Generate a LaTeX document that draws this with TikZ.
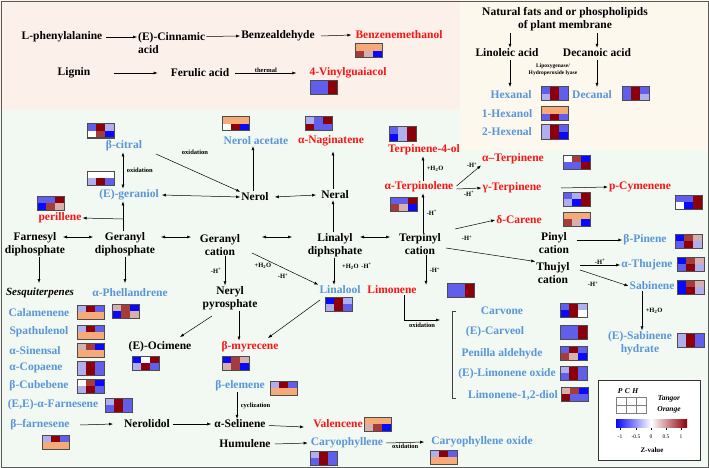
\documentclass[tikz,border=0pt]{standalone}
\usepackage{fontspec}
\setmainfont{Liberation Serif}
\usetikzlibrary{arrows.meta}
\definecolor{B}{RGB}{10,10,250}
\definecolor{M}{RGB}{95,95,235}
\definecolor{L}{RGB}{175,175,240}
\definecolor{W}{RGB}{255,255,255}
\definecolor{P}{RGB}{215,175,175}
\definecolor{S}{RGB}{165,60,60}
\definecolor{R}{RGB}{140,0,10}
\definecolor{O}{RGB}{245,170,120}
\definecolor{tblue}{RGB}{90,150,215}
\definecolor{tred}{RGB}{250,20,20}
\definecolor{bgpink}{RGB}{252,240,234}
\definecolor{bgbeige}{RGB}{253,248,238}
\definecolor{bggreen}{RGB}{242,248,242}
\newcommand{\hm}[8]{\begin{scope}[shift={(#1,#2)}]
\fill[#3] (0,0) rectangle (9,7);\fill[#4] (9,0) rectangle (18,7);\fill[#5] (18,0) rectangle (27,7);
\fill[#6] (0,7) rectangle (9,14);\fill[#7] (9,7) rectangle (18,14);\fill[#8] (18,7) rectangle (27,14);
\draw[gray!60!black,line width=1pt] (0,0) rectangle (27,14);\end{scope}}
\tikzset{
 t/.style={font=\bfseries\fontsize{11.5}{12.5}\selectfont,inner sep=1pt,align=center},
 tb/.style={t,text=tblue},
 tr/.style={t,text=tred},
 sm/.style={font=\bfseries\fontsize{6.5}{7}\selectfont,inner sep=0.5pt,align=center},
 ar/.style={-{Latex[length=4pt,width=3pt]},line width=0.5pt},
 dar/.style={{Latex[length=4pt,width=3pt]}-{Latex[length=4pt,width=3pt]},line width=0.5pt},
}
\begin{document}
\begin{tikzpicture}[x=1pt,y=-1pt]
\useasboundingbox (0,0) rectangle (709,468);
\fill[bggreen] (0,0) rectangle (709,468);
\fill[bgpink] (0,0) rectangle (460,110);
\fill[bgbeige] (460,0) rectangle (709,150);
\draw[gray!70!black,line width=0.8pt] (1,1) rectangle (708,467);
% top-left
\node[t] (lphe) at (62,37) {L-phenylalanine};
\node[t,anchor=west,align=left] (cinn) at (137,43) {(E)-Cinnamic\\acid};
\node[t] (benz) at (278,36) {Benzealdehyde};
\node[tr] (bzm) at (399,35) {Benzenemethanol};
\hm{355}{44}{O}{O}{O}{S}{P}{B}
\node[t] (lig) at (74,73) {Lignin};
\node[t] (fer) at (200,73) {Ferulic acid};
\node[tr] (vin) at (348,73) {4-Vinylguaiacol};
\hm{310}{81}{M}{M}{R}{M}{M}{R}
\draw[ar] (lphe.east) ++(3,0) -- ([yshift=6pt]cinn.west);
\draw[ar] ([xshift=-14pt,yshift=6.5pt]cinn.east) ++(14,0) -- (benz.west);
\draw[ar] (benz.east) ++(5,0) -- ([xshift=-3pt]bzm.west);
\draw[ar] (lig.east) ++(22,0) -- ([xshift=-12pt]fer.west);
\draw[ar] (fer.east) ++(5,0) -- node[sm,above]{thermal} ([xshift=-12pt]vin.west);
% top-right
\node[t] (nat) at (565,19) {Natural fats and or phospholipids\\of plant membrane};
\node[t] (lino) at (507,53) {Linoleic acid};
\node[t] (deca) at (597,53) {Decanoic acid};
\draw[ar] (510,33) -- (lino.north -| 510,0);
\draw[ar] (597,33) -- (deca.north);
\node[sm,font=\bfseries\fontsize{5.5}{7}\selectfont] (lipo) at (553,70) {Lipoxygenase/\\Hydroperoxide lyase};
\node[tb] (hexa) at (511,95) {Hexanal};
\node[tb] (decal) at (592,95) {Decanal};
\draw[ar] (510,60) -- (510,87);
\draw[ar] (597,60) -- (597,87);
\hm{541}{87}{M}{R}{M}{L}{R}{M}
\hm{622}{87}{M}{R}{M}{M}{R}{L}
\node[tb] (hexol) at (507,114) {1-Hexanol};
\hm{541}{107}{O}{O}{O}{M}{R}{M}
\node[tb] (hexe) at (507,132) {2-Hexenal};
\hm{541}{125}{L}{R}{M}{L}{R}{B}
% geraniol area
\node[tb] (cit) at (124,146) {β-citral};
\hm{87}{124}{M}{R}{L}{W}{S}{B}
\node[tb] (nac) at (256,141) {Nerol acetate};
\hm{222}{117}{O}{O}{O}{W}{R}{B}
\node[tr] (nag) at (331,141) {α-Naginatene};
\hm{305}{117}{L}{M}{R}{R}{M}{M}
\node[tb] (ger) at (129,195) {(E)-geraniol};
\hm{87}{171}{W}{W}{W}{L}{R}{M}
\node[t] (nerol) at (255,197) {Nerol};
\node[t] (neral) at (335,195) {Neral};
\draw[ar] (156,154) -- (nerol.north west);
\node[sm] at (195,152) {oxidation};
\draw[ar] (nerol.north) ++(-2,-1) -- (nac.south -| 253,0);
\draw[ar] (neral.north) ++(-2,-1) -- ([yshift=-4pt]nag.south -| 333,0);
\draw[dar] (cit.south -| 123,0) -- node[sm,right=3pt]{oxidation} (ger.north -| 123,0);
\draw[dar] (ger.east) ++(2,0) -- (nerol.west);
\draw[dar] (nerol.east) ++(5,0) -- ([xshift=-4pt]neral.west);
\node[tr] (per) at (60,218) {perillene};
\hm{37}{196}{M}{M}{R}{B}{S}{P}
\coordinate (pj) at (123,219);
\draw[ar] (pj) -- (per.east);
\node[t] (far) at (35,244) {Farnesyl\\diphosphate};
\node[t] (gdp) at (125,244) {Geranyl\\diphosphate};
\node[t] (gca) at (220,245) {Geranyl\\cation};
\node[t] (lin) at (335,245) {Linalyl\\diphsphate};
\draw[ar] (pj) -- (ger.south -| 123,0);
\draw (gdp.north -| 123,0) -- (pj);
\draw[dar] (63,237) -- (93,237);
\draw[dar] (161,237) -- (191,237);
\draw[dar] (262,237) -- (292,237);
\draw[ar] (lin.north -| 333,0) -- (neral.south -| 333,0);
\draw[ar] (far.south -| 39,0) -- (39,283);
\draw[ar] (gdp.south) -- (125,283);
\node[font=\bfseries\itshape\fontsize{11}{12}\selectfont,inner sep=1pt] (ses) at (40,293) {Sesquiterpenes};
\node[tb] (phe) at (130,293) {α-Phellandrene};
\hm{112}{304}{P}{S}{B}{B}{S}{P}
\node[t] (ner) at (230,298) {Neryl\\pyrosphate};
\draw[ar] (gca.south -| 225,0) -- node[sm,left=3pt]{-H\textsuperscript{+}} (ner.north -| 225,0);
\node[tb] (lool) at (340,290) {Linalool};
\hm{325}{297}{B}{R}{L}{L}{R}{M}
\draw[ar] (252,253) -- (lool.north west);
\node[sm] at (263,266) {+H\textsubscript{2}O};
\node[sm] at (283,276) {-H\textsuperscript{+}};
\draw[ar] (lin.south -| 334,0) -- (lool.north -| 334,0);
\node[sm] at (357,266) {+H\textsubscript{2}O\, -H\textsuperscript{+}};
\node[t] (oci) at (160,347) {(E)-Ocimene};
\hm{132}{356}{B}{W}{R}{L}{R}{M}
\node[tr] (myr) at (250,347) {β-myrecene};
\hm{222}{356}{B}{S}{P}{P}{S}{B}
\draw[ar] (212,316) -- (180,337);
\draw[ar] (ner.south -| 239,0) -- (myr.north -| 239,0);
\draw[ar] (320,300) -- (268,338);
\node[tb] (ele) at (240,386) {β-elemene};
\hm{270}{381}{L}{R}{M}{O}{O}{O}
% sesquiterpene list
\node[tb] (cal) at (39,313) {Calamenene}; \hm{77}{305}{L}{R}{M}{O}{O}{O}
\node[tb] (spa) at (39,332) {Spathulenol}; \hm{77}{325}{L}{R}{M}{O}{O}{O}
\node[tb] (sin) at (35,351) {α-Sinensal}; \hm{77}{343}{P}{S}{B}{O}{O}{O}
\node[tb] (cop) at (36,368) {α-Copaene}; \hm{77}{361}{L}{R}{M}{L}{R}{M}
\node[tb] (cub) at (39,386) {β-Cubebene}; \hm{77}{379}{W}{S}{B}{L}{R}{M}
\node[tb] (eef) at (53,405) {(E,E)-α-Farnesene}; \hm{105}{398}{L}{R}{M}{M}{R}{M}
\node[tb] (bfa) at (40,425) {β–farnesene}; \hm{42}{435}{L}{R}{M}{O}{O}{O}
\node[t] (nlol) at (147,424) {Nerolidol};
\node[t] (sel) at (240,424) {α-Selinene};
\node[tr] (val) at (338,424) {Valencene};
\hm{364}{417}{O}{O}{O}{P}{S}{B}
\node[t] (hum) at (245,444) {Humulene};
\node[tb] (car) at (347,443) {Caryophyllene};
\hm{310}{451}{L}{R}{M}{M}{R}{M}
\node[tb] (cox) at (482,442) {Caryophyllene oxide};
\hm{430}{450}{L}{R}{M}{O}{O}{O}
\draw[ar] (80,425) -- (nlol.west -| 113,0);
\draw[ar] (nlol.east) ++(2,0) -- ([xshift=-2pt]sel.west);
\draw[ar] (ele.south -| 237,0) -- node[sm,right=3pt]{cyclization} (sel.north -| 237,0);
\draw[ar] (sel.east) ++(2,1.5) -- (304,427);
\draw[ar] (hum.east) ++(3,0) -- ([xshift=-2pt]car.west);
\draw[ar] (car.east) ++(2,0) -- node[sm,below=1pt]{oxidation} ([xshift=-6pt]cox.west);
% terpinyl area
\node[tr] (tol) at (419,187) {α-Terpinolene};
\hm{390}{197}{M}{M}{R}{S}{P}{B}
\node[tr] (t4) at (424,150) {Terpinene-4-ol};
\hm{389}{127}{M}{L}{R}{B}{L}{R}
\draw[ar] (tol.north -| 423,0) -- node[sm,right=3pt]{+H\textsubscript{2}O} (t4.south -| 423,0);
\node[tr] (ater) at (513,159) {α–Terpinene};
\hm{563}{155}{W}{S}{B}{M}{M}{R}
\node[tr] (gter) at (512,188) {γ-Terpinene};
\hm{563}{192}{M}{L}{R}{L}{B}{R}
\node[tr] (pcy) at (640,187) {p-Cymenene};
\hm{675}{195}{M}{M}{R}{W}{B}{R}
\node[tr] (dca) at (519,220) {δ-Carene};
\hm{563}{212}{O}{O}{O}{S}{P}{B}
\draw[ar] (tol.east) ++(2,-1) -- (ater.south west);
\node[sm] at (472,165) {-H\textsuperscript{+}};
\draw[ar] (tol.east) ++(2,2) -- node[sm,below=2pt]{-H\textsuperscript{+}} (gter.west);
\draw[ar] (561,188) -- (pcy.west);
\node[t] (tca) at (420,244) {Terpinyl\\cation};
\draw[ar] (tca.north -| 423,0) -- node[sm,right=3pt]{-H\textsuperscript{+}} (tol.south -| 423,0);
\draw[dar] (360,237) -- (390,237);
\draw[ar] (455,229) -- (dca.west);
\node[sm] at (467,238) {-H\textsuperscript{+}};
\node[t] (pin) at (554,243) {Pinyl\\cation};
\node[tb] (bpi) at (645,240) {β-Pinene};
\hm{675}{234}{B}{S}{P}{M}{R}{L}
\draw[ar] (577,240) -- (bpi.west);
\node[t] (thu) at (553,273) {Thujyl\\cation};
\draw[ar] (446,248) -- (thu.north west);
\node[tb] (ath) at (647,265) {α-Thujene};
\hm{677}{257}{B}{S}{P}{M}{R}{L}
\node[tb] (sab) at (652,286) {Sabinene};
\hm{677}{280}{B}{S}{P}{B}{R}{L}
\draw[ar] (580,265) -- node[sm,above]{-H\textsuperscript{+}} (ath.west);
\draw[ar] (580,270) -- (sab.west);
\node[sm] at (593,284) {-H\textsuperscript{+}};
\node[tb] (shy) at (640,343) {(E)-Sabinene\\hydrate};
\hm{677}{333}{L}{R}{M}{L}{R}{M}
\draw[ar] (sab.south -| 642,0) -- node[sm,right=3pt]{+H\textsubscript{2}O} (shy.north -| 642,0);
\node[tr] (lim) at (392,290) {Limonene};
\hm{447}{283}{M}{M}{R}{M}{M}{R}
\draw[ar] (tca.south -| 426,0) -- node[sm,right=3pt]{-H\textsuperscript{+}} (lim.north -| 426,0);
\coordinate (lo) at (440,320);
\draw[ar] (lim.south -| 404,0) -- (404,320) -- node[sm,below=2pt]{oxidation} (lo);
\draw[line width=0.7pt,gray!50!black] (456,311) -- (452,311) -- (452,398) -- (456,398);
\node[tb] (cvn) at (502,311) {Carvone}; \hm{560}{303}{M}{R}{L}{B}{R}{W}
\node[tb] (cvl) at (495,332) {(E)-Carveol}; \hm{560}{325}{M}{M}{R}{M}{M}{R}
\node[tb] (pen) at (502,354) {Penilla aldehyde}; \hm{560}{346}{M}{R}{M}{S}{P}{B}
\node[tb] (lox) at (507,374) {(E)-Limonene oxide}; \hm{560}{366}{L}{R}{M}{M}{R}{M}
\node[tb] (ldi) at (513,395) {Limonene-1,2-diol}; \hm{561}{387}{P}{S}{B}{R}{M}{M}
% legend
\draw[line width=0.7pt,gray!40!black,fill=white] (598,380) rectangle (700,460);
\node[font=\bfseries\itshape\fontsize{7.5}{8}\selectfont] (pch) at (628,391) {P\,\,C\,\,H};
\draw[gray,line width=0.4pt] (616,397) rectangle (646,413) (616,405) -- (646,405) (626,397) -- (626,413) (636,397) -- (636,413);
\node[font=\bfseries\itshape\fontsize{7.5}{8}\selectfont] (tang) at (669,399) {Tangor};
\node[font=\bfseries\itshape\fontsize{7.5}{8}\selectfont] (oran) at (669,410) {Orange};
\shade[left color=B,right color=W] (616,419) rectangle (651,427);
\shade[left color=W,right color=R] (651,419) rectangle (687,427);
\foreach \v/\x in {-1/620,-0.5/636,0/651,0.5/666,1/681}{\draw[line width=0.3pt] (\x,428) -- (\x,430); \node[font=\fontsize{5.5}{6}\selectfont] at (\x,437) {\v};}
\node[font=\bfseries\fontsize{7}{8}\selectfont] (zv) at (652,450) {Z-value};
\end{tikzpicture}
\end{document}
